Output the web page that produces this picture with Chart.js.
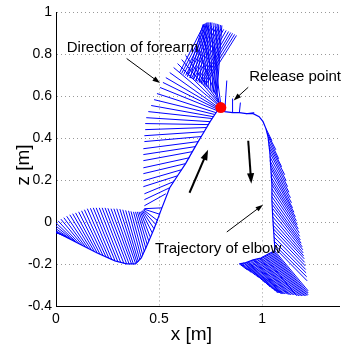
<!DOCTYPE html>
<html lang="en">
<head>
<meta charset="UTF-8" />
<title>Direction of forearm and trajectory of elbow</title>
<script src="https://cdn.jsdelivr.net/npm/chart.js@4"></script>
<style>
  body { margin: 0; background: #fff; overflow: hidden; }
  .chart-container { position: relative; width: 345px; height: 345px; }
</style>
</head>
<body>
<div class="chart-container"><canvas id="armChart"></canvas></div>
<script>
const FONT = "Arial, 'Liberation Sans', sans-serif";

// axes
const xTicks = [0, 0.5, 1];
const xTickLabels = ["0", "0.5", "1"];
const yTicks = [-0.4, -0.2, 0, 0.2, 0.4, 0.6, 0.8, 1];
const yTickLabels = ["-0.4", "-0.2", "0", "0.2", "0.4", "0.6", "0.8", "1"];

// elbow trajectory [m]
const elbowX = [0.0, 0.029, 0.114, 0.200, 0.286, 0.343, 0.386, 0.414, 0.443, 0.476, 0.514, 0.552, 0.590, 0.629, 0.662, 0.690, 0.719, 0.748, 0.771, 0.790, 0.800,
  0.819, 0.857, 0.890, 0.924, 0.957, 0.986, 1.005, 1.019, 1.029, 1.038, 1.043, 1.048, 1.048, 1.052, 1.057, 1.062,
  1.062, 1.033, 0.995, 0.957, 0.919, 0.890];
const elbowZ = [-0.048, -0.061, -0.104, -0.147, -0.185, -0.199, -0.199, -0.171, -0.108, -0.032, 0.068, 0.164, 0.221, 0.279, 0.336, 0.384, 0.431, 0.479, 0.513, 0.541, 0.556,
  0.527, 0.522, 0.522, 0.517, 0.517, 0.503, 0.479, 0.446, 0.408, 0.331, 0.255, 0.178, 0.102, 0.025, -0.051, -0.123,
  -0.137, -0.151, -0.171, -0.180, -0.194, -0.199];

// forearm: elbow end (x0, z0) -> hand end (x1, z1)
const armX0 = [
  // swing from behind
  0.014, 0.029, 0.043, 0.057, 0.071, 0.086, 0.100, 0.114, 0.129, 0.143, 0.157, 0.171, 0.186, 0.200, 0.214, 0.229, 0.243, 0.257, 0.271, 0.286, 0.300, 0.314,
  0.329, 0.343, 0.355, 0.367, 0.376, 0.386, 0.393, 0.400, 0.407, 0.414, 0.421, 0.429, 0.436, 0.443, 0.450, 0.457, 0.467, 0.476, 0.486, 0.495, 0.505, 0.514,
  // elbow rising
  0.533, 0.552, 0.571, 0.590, 0.610, 0.629, 0.648, 0.662, 0.676, 0.690, 0.705, 0.719, 0.729, 0.738, 0.748, 0.757, 0.762, 0.771, 0.776, 0.781, 0.786, 0.790, 0.790, 0.795, 0.795, 0.800, 0.800,
  // forearm turning over the top
  0.600, 0.610, 0.619, 0.629, 0.638, 0.648, 0.657, 0.667, 0.676, 0.686, 0.695, 0.702, 0.710, 0.717, 0.724,
  0.638, 0.652, 0.667, 0.681, 0.695, 0.707, 0.719, 0.729, 0.738, 0.748, 0.757, 0.764, 0.771, 0.776, 0.781,
  0.795, 0.795, 0.800,
  // release
  0.819, 0.857, 0.890, 0.924,
  // descent
  1.019, 1.024, 1.029, 1.031, 1.033, 1.036, 1.038, 1.038, 1.038, 1.040, 1.043, 1.043, 1.043, 1.045, 1.048, 1.048, 1.048, 1.048, 1.048, 1.050, 1.052, 1.052,
  1.052, 1.052, 1.052, 1.055, 1.057, 1.057, 1.057, 1.060, 1.062,
  // follow-through
  1.062, 1.057, 1.052, 1.048, 1.043, 1.038, 1.033, 1.029, 1.024, 1.019, 1.014, 1.010, 1.005, 1.000, 0.995, 0.990, 0.986, 0.981, 0.976, 0.971, 0.967, 0.962,
  0.957, 0.952, 0.948, 0.943, 0.938, 0.933, 0.929, 0.924, 0.919, 0.914, 0.910, 0.905, 0.900, 0.895, 0.890
];
const armZ0 = [
  -0.054, -0.061, -0.068, -0.075, -0.082, -0.089, -0.097, -0.104, -0.111, -0.118, -0.125, -0.132, -0.140, -0.147, -0.154, -0.161, -0.167, -0.173, -0.178, -0.183, -0.188, -0.192,
  -0.196, -0.199, -0.200, -0.201, -0.200, -0.197, -0.193, -0.188, -0.180, -0.170, -0.157, -0.142, -0.125, -0.108, -0.089, -0.070, -0.051, -0.032, -0.013, 0.006, 0.037, 0.068,
  0.135, 0.164, 0.193, 0.221, 0.250, 0.279, 0.307, 0.336, 0.360, 0.384, 0.408, 0.431, 0.451, 0.465, 0.479, 0.494, 0.503, 0.513, 0.522, 0.532, 0.537, 0.541, 0.546, 0.551, 0.556, 0.556, 0.560,
  0.713, 0.709, 0.704, 0.699, 0.694, 0.689, 0.685, 0.680, 0.675, 0.670, 0.666, 0.663, 0.661, 0.656, 0.651,
  0.694, 0.687, 0.680, 0.673, 0.666, 0.658, 0.651, 0.644, 0.637, 0.630, 0.623, 0.618, 0.613, 0.608, 0.603,
  0.560, 0.560, 0.560,
  0.527, 0.522, 0.522, 0.517,
  0.446, 0.427, 0.408, 0.388, 0.369, 0.350, 0.331, 0.312, 0.293, 0.274, 0.255, 0.236, 0.216, 0.197, 0.178, 0.159, 0.140, 0.121, 0.102, 0.083, 0.064, 0.044,
  0.025, 0.006, -0.013, -0.032, -0.051, -0.070, -0.089, -0.108, -0.123,
  -0.137, -0.140, -0.142, -0.145, -0.147, -0.149, -0.151, -0.154, -0.156, -0.159, -0.161, -0.164, -0.166, -0.169, -0.171, -0.171, -0.171, -0.173, -0.175, -0.178, -0.180, -0.180,
  -0.180, -0.183, -0.185, -0.188, -0.190, -0.190, -0.190, -0.192, -0.194, -0.194, -0.194, -0.197, -0.199, -0.199, -0.199
];
const armX1 = [
  -0.090, -0.076, -0.062, -0.048, -0.033, -0.019, -0.005, 0.010, 0.024, 0.038, 0.052, 0.067, 0.081, 0.095, 0.110, 0.124, 0.138, 0.152, 0.167, 0.181, 0.195, 0.210,
  0.224, 0.238, 0.252, 0.267, 0.281, 0.295, 0.310, 0.324, 0.338, 0.352, 0.364, 0.376, 0.386, 0.395, 0.403, 0.410, 0.415, 0.419, 0.422, 0.424, 0.427, 0.429,
  0.429, 0.429, 0.429, 0.424, 0.424, 0.424, 0.424, 0.424, 0.424, 0.424, 0.429, 0.429, 0.433, 0.433, 0.438, 0.448, 0.462, 0.476, 0.490, 0.505, 0.519, 0.533, 0.552, 0.571, 0.590, 0.610, 0.629,
  0.719, 0.731, 0.743, 0.755, 0.767, 0.779, 0.790, 0.802, 0.814, 0.826, 0.838, 0.848, 0.857, 0.867, 0.876,
  0.714, 0.719, 0.724, 0.729, 0.733, 0.738, 0.743, 0.750, 0.757, 0.767, 0.776, 0.783, 0.790, 0.798, 0.805,
  0.681, 0.714, 0.752,
  0.829, 0.857, 0.895, 0.962,
  1.048, 1.067, 1.081, 1.095, 1.110, 1.117, 1.124, 1.131, 1.138, 1.143, 1.148, 1.155, 1.162, 1.167, 1.171, 1.176, 1.181, 1.183, 1.186, 1.190, 1.195, 1.198,
  1.200, 1.202, 1.205, 1.207, 1.210, 1.212, 1.214, 1.217, 1.219,
  1.224, 1.224, 1.224, 1.219, 1.214, 1.207, 1.200, 1.193, 1.186, 1.179, 1.171, 1.167, 1.162, 1.155, 1.148, 1.140, 1.133, 1.126, 1.119, 1.112, 1.105, 1.100,
  1.095, 1.090, 1.086, 1.081, 1.076, 1.064, 1.052, 1.040, 1.029, 1.014, 1.000, 0.983, 0.967, 0.948, 0.929
];
const armZ1 = [
  -0.027, -0.022, -0.017, -0.013, -0.008, -0.003, 0.001, 0.006, 0.014, 0.021, 0.028, 0.035, 0.040, 0.044, 0.049, 0.054, 0.059, 0.064, 0.066, 0.068, 0.068, 0.068,
  0.068, 0.068, 0.066, 0.064, 0.064, 0.064, 0.062, 0.059, 0.056, 0.054, 0.051, 0.049, 0.049, 0.049, 0.049, 0.049, 0.051, 0.054, 0.056, 0.059, 0.062, 0.064,
  0.078, 0.107, 0.135, 0.169, 0.197, 0.231, 0.259, 0.293, 0.322, 0.350, 0.384, 0.412, 0.441, 0.470, 0.498, 0.527, 0.556, 0.584, 0.613, 0.642, 0.666, 0.689, 0.713, 0.737, 0.756, 0.775, 0.795,
  0.943, 0.940, 0.938, 0.935, 0.933, 0.931, 0.928, 0.924, 0.919, 0.914, 0.909, 0.904, 0.900, 0.895, 0.890,
  0.943, 0.945, 0.947, 0.950, 0.952, 0.952, 0.952, 0.952, 0.952, 0.950, 0.947, 0.945, 0.943, 0.940, 0.938,
  0.842, 0.890, 0.914,
  0.675, 0.589, 0.570, 0.522,
  0.388, 0.345, 0.302, 0.264, 0.226, 0.197, 0.169, 0.142, 0.116, 0.092, 0.068, 0.047, 0.025, 0.006, -0.013, -0.032, -0.051, -0.068, -0.085, -0.101, -0.118, -0.132,
  -0.147, -0.161, -0.175, -0.192, -0.209, -0.226, -0.242, -0.261, -0.280,
  -0.328, -0.338, -0.347, -0.350, -0.352, -0.352, -0.352, -0.352, -0.352, -0.352, -0.352, -0.350, -0.347, -0.347, -0.347, -0.347, -0.347, -0.345, -0.343, -0.343, -0.343, -0.343,
  -0.343, -0.340, -0.338, -0.338, -0.338, -0.328, -0.319, -0.310, -0.300, -0.288, -0.276, -0.264, -0.252, -0.240, -0.228
];

const releaseX = [0.8];
const releaseZ = [0.546];

// annotations (data coordinates)
const notes = [
  { text: "Direction of forearm", x: 0.052, z: 0.833 },
  { text: "Release point", x: 0.938, z: 0.694 },
  { text: "Trajectory of elbow", x: 0.481, z: -0.128 }
];
const arrows = [
  { from: [0.343, 0.780], to: [0.505, 0.663], width: 1, head: 8 },
  { from: [0.933, 0.643], to: [0.862, 0.580], width: 1, head: 8 },
  { from: [0.648, 0.140], to: [0.738, 0.345], width: 2, head: 11 },
  { from: [0.933, 0.388], to: [0.948, 0.183], width: 2, head: 11 },
  { from: [0.829, -0.047], to: [1.005, 0.083], width: 1, head: 8 }
];

const armData = [];
armX0.forEach((x, i) => {
  armData.push({ x: x, y: armZ0[i] }, { x: armX1[i], y: armZ1[i] }, { x: null, y: null });
});
const elbowData = elbowX.map((x, i) => ({ x: x, y: elbowZ[i] }));

const overlay = {
  id: "overlay",
  afterDatasetsDraw(chart) {
    const { ctx } = chart;
    const xs = chart.scales.x, ys = chart.scales.y;
    ctx.save();
    ctx.strokeStyle = "#000";
    ctx.fillStyle = "#000";
    arrows.forEach(a => {
      const x0 = xs.getPixelForValue(a.from[0]), y0 = ys.getPixelForValue(a.from[1]);
      const x1 = xs.getPixelForValue(a.to[0]), y1 = ys.getPixelForValue(a.to[1]);
      const ang = Math.atan2(y1 - y0, x1 - x0);
      ctx.lineWidth = a.width;
      ctx.beginPath();
      ctx.moveTo(x0, y0);
      ctx.lineTo(x1 - a.head * 0.7 * Math.cos(ang), y1 - a.head * 0.7 * Math.sin(ang));
      ctx.stroke();
      ctx.beginPath();
      ctx.moveTo(x1, y1);
      ctx.lineTo(x1 - a.head * Math.cos(ang - 0.33), y1 - a.head * Math.sin(ang - 0.33));
      ctx.lineTo(x1 - a.head * Math.cos(ang + 0.33), y1 - a.head * Math.sin(ang + 0.33));
      ctx.closePath();
      ctx.fill();
    });
    ctx.font = "15px " + FONT;
    ctx.textAlign = "left";
    ctx.textBaseline = "middle";
    notes.forEach(n => ctx.fillText(n.text, xs.getPixelForValue(n.x), ys.getPixelForValue(n.z)));
    ctx.restore();
  },
  afterDraw(chart) {
    const { ctx } = chart;
    ctx.save();
    ctx.fillStyle = "#000";
    ctx.font = "19px " + FONT;
    ctx.textAlign = "center";
    ctx.textBaseline = "middle";
    ctx.fillText("x [m]", chart.scales.x.getPixelForValue(0.657), 335);
    ctx.translate(24, 165);
    ctx.rotate(-Math.PI / 2);
    ctx.fillText("z [m]", 0, 0);
    ctx.restore();
  }
};

new Chart(document.getElementById("armChart"), {
  type: "scatter",
  data: {
    datasets: [
      {
        label: "Release point",
        data: [{ x: releaseX[0], y: releaseZ[0] }],
        pointRadius: 5.5,
        backgroundColor: "#ff0000",
        borderWidth: 0,
        order: 0
      },
      {
        label: "Trajectory of elbow",
        data: elbowData,
        showLine: true,
        borderColor: "#0000ff",
        borderWidth: 1.2,
        pointRadius: 0,
        tension: 0,
        order: 1
      },
      {
        label: "Direction of forearm",
        data: armData,
        showLine: true,
        spanGaps: false,
        borderColor: "#0000ff",
        borderWidth: 1,
        pointRadius: 0,
        order: 2
      }
    ]
  },
  options: {
    responsive: true,
    maintainAspectRatio: false,
    animation: false,
    layout: { padding: { top: 12, right: 0, left: 0, bottom: 0 } },
    plugins: { legend: { display: false }, tooltip: { enabled: false } },
    scales: {
      x: {
        type: "linear",
        min: 0,
        max: 1.376,
        afterBuildTicks: s => { s.ticks = xTicks.map(v => ({ value: v })); },
        afterFit: s => { s.height = 39; },
        ticks: {
          callback: (v, i) => xTickLabels[i],
          color: "#000",
          font: { size: 14, family: FONT },
          padding: 5,
          maxRotation: 0,
          autoSkip: false
        },
        grid: { color: "#999", drawTicks: false },
        border: { display: true, color: "#000", width: 1, dash: [1, 3] }
      },
      y: {
        type: "linear",
        min: -0.4,
        max: 1,
        afterBuildTicks: s => { s.ticks = yTicks.map(v => ({ value: v })); },
        afterFit: s => { s.width = 56; },
        ticks: {
          callback: (v, i) => yTickLabels[i],
          color: "#000",
          font: { size: 14, family: FONT },
          padding: 4,
          autoSkip: false
        },
        grid: { color: "#999", drawTicks: false },
        border: { display: true, color: "#000", width: 1, dash: [1, 3] }
      }
    }
  },
  plugins: [overlay]
});
</script>
</body>
</html>
